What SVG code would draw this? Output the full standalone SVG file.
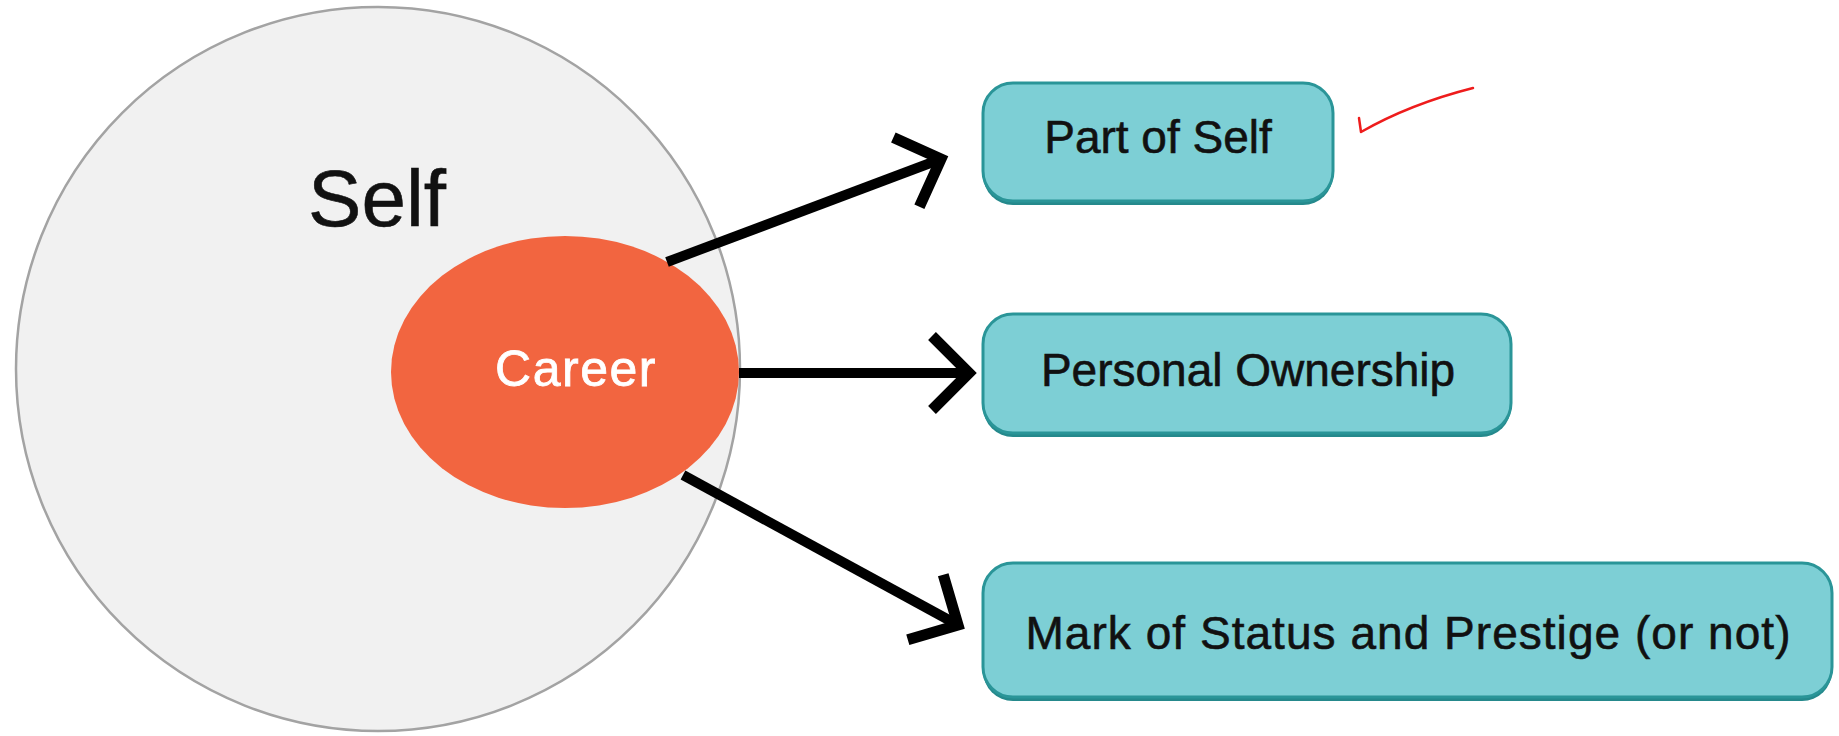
<svg xmlns="http://www.w3.org/2000/svg" width="1839" height="736" viewBox="0 0 1839 736">
  <style>
    .lbl { font-family: "Liberation Sans", Arial, sans-serif; fill: #111; stroke: #111; stroke-width: 0.6; }
    .wht { fill: #ffffff; stroke: #ffffff; stroke-width: 0.8; }
    .box { fill: #7dcfd5; stroke: #2a9598; stroke-width: 3; }
    .boxsh { fill: #25898c; }
    .conn { stroke: #000; stroke-width: 10; fill: none; marker-end: url(#chev); }
  </style>
  <defs>
    <marker id="chev" markerUnits="userSpaceOnUse" markerWidth="100" markerHeight="100" viewBox="-50 -50 100 100" refX="0" refY="0" orient="auto" overflow="visible">
      <path d="M-37,-37 L0,0 L-37,37" fill="none" stroke="#000" stroke-width="11" stroke-linejoin="miter" stroke-linecap="butt"/>
    </marker>
  </defs>
  <rect width="1839" height="736" fill="#ffffff"/>

  <g id="self">
    <circle cx="378" cy="369" r="362" fill="#f1f1f1" stroke="#a3a3a3" stroke-width="2.5"/>
    <text class="lbl" x="377" y="226" font-size="80" text-anchor="middle">Self</text>
  </g>

  <g id="career">
    <ellipse cx="565" cy="372" rx="174" ry="136" fill="#f26540"/>
    <text class="lbl wht" x="576" y="386" font-size="50" text-anchor="middle" letter-spacing="1.5">Career</text>
  </g>

  <g id="connectors">
    <line class="conn" x1="667" y1="262" x2="941" y2="159"/>
    <line class="conn" x1="739" y1="373" x2="969" y2="373"/>
    <line class="conn" x1="683" y1="475" x2="958" y2="625"/>
  </g>

  <g id="part-of-self">
    <rect class="boxsh" x="983" y="86" width="350" height="119" rx="30"/>
    <rect class="box" x="983" y="83" width="350" height="118" rx="30"/>
    <text class="lbl" x="1158" y="153" font-size="46" text-anchor="middle">Part of Self</text>
  </g>

  <g id="personal-ownership">
    <rect class="boxsh" x="983" y="317" width="528" height="120" rx="30"/>
    <rect class="box" x="983" y="314" width="528" height="119" rx="30"/>
    <text class="lbl" x="1248" y="386" font-size="46" text-anchor="middle">Personal Ownership</text>
  </g>

  <g id="mark-of-status">
    <rect class="boxsh" x="983" y="566" width="849" height="135" rx="30"/>
    <rect class="box" x="983" y="563" width="849" height="134" rx="30"/>
    <text class="lbl" x="1408" y="649" font-size="46" text-anchor="middle" textLength="765">Mark of Status and Prestige (or not)</text>
  </g>

  <g id="checkmark">
    <path d="M1359,118 L1361,132 Q1410,104 1473,88" fill="none" stroke="#ee1c1c" stroke-width="2.5" stroke-linecap="round" stroke-linejoin="round"/>
  </g>
</svg>
